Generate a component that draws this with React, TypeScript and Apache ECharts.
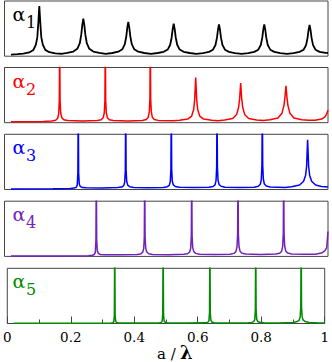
import React, { useEffect, useRef } from "react";
import * as echarts from "echarts";

// ---- data (x = a/lambda, y = fraction of panel height) ----
const xTickLabels = ["0", "0.2", "0.4", "0.6", "0.8", "1"];
const panelNames = ["1", "2", "3", "4", "5"];
const panelColors = ["#000000", "#ff0000", "#0000ff", "#7221bc", "#008b00"];

const curve1: number[][] = [
  [0.02, 0.03], [0.04, 0.036], [0.0581, 0.048], [0.0767, 0.068], [0.0891, 0.112], [0.0968, 0.205], [0.1014, 0.34], [0.1045, 0.6],
  [0.1076, 0.91], [0.1107, 0.6], [0.1138, 0.34], [0.1184, 0.21], [0.1261, 0.115], [0.1385, 0.072], [0.1571, 0.052], [0.1756, 0.044],
  [0.1941, 0.06], [0.2127, 0.085], [0.2251, 0.133], [0.2328, 0.235], [0.2374, 0.394], [0.2405, 0.566], [0.2436, 0.68],
  [0.2467, 0.566], [0.2498, 0.394], [0.2544, 0.235], [0.2621, 0.133], [0.2745, 0.085], [0.2931, 0.06], [0.313, 0.044],
  [0.3332, 0.058], [0.3518, 0.081], [0.3642, 0.125], [0.3719, 0.217], [0.3765, 0.36], [0.3796, 0.516], [0.3827, 0.62],
  [0.3858, 0.516], [0.3889, 0.36], [0.3935, 0.217], [0.4012, 0.125], [0.4136, 0.081], [0.4322, 0.058], [0.4528, 0.044],
  [0.4735, 0.058], [0.4921, 0.08], [0.5045, 0.12], [0.5122, 0.208], [0.5168, 0.344], [0.5199, 0.49], [0.523, 0.59],
  [0.5261, 0.49], [0.5292, 0.344], [0.5338, 0.208], [0.5415, 0.12], [0.5539, 0.08], [0.5725, 0.058], [0.593, 0.044],
  [0.6135, 0.057], [0.6321, 0.078], [0.6445, 0.118], [0.6522, 0.203], [0.6568, 0.336], [0.6599, 0.479], [0.663, 0.574],
  [0.6661, 0.479], [0.6692, 0.336], [0.6738, 0.203], [0.6815, 0.118], [0.6939, 0.078], [0.7125, 0.057], [0.733, 0.044],
  [0.7535, 0.057], [0.7721, 0.078], [0.7845, 0.118], [0.7922, 0.203], [0.7968, 0.336], [0.7999, 0.479], [0.803, 0.574],
  [0.8061, 0.479], [0.8092, 0.336], [0.8138, 0.203], [0.8215, 0.118], [0.8339, 0.078], [0.8525, 0.057], [0.873, 0.044],
  [0.8935, 0.057], [0.9121, 0.078], [0.9245, 0.117], [0.9322, 0.2], [0.9368, 0.332], [0.9399, 0.473], [0.943, 0.567],
  [0.9461, 0.473], [0.9492, 0.332], [0.9538, 0.2], [0.9615, 0.117], [0.9739, 0.078], [0.9925, 0.06], [1.0, 0.06],
];

const curve2: number[][] = [
  [0.02, 0.018], [0.12, 0.02], [0.1459, 0.03], [0.1582, 0.045], [0.1644, 0.08], [0.1675, 0.16], [0.1694, 0.4], [0.1706, 1.6],
  [0.1718, 0.4], [0.1737, 0.18], [0.1768, 0.095], [0.183, 0.055], [0.1953, 0.04], [0.2411, 0.03],
  [0.2869, 0.04], [0.2992, 0.055], [0.3054, 0.095], [0.3085, 0.18], [0.3104, 0.4], [0.3116, 1.6],
  [0.3128, 0.4], [0.3147, 0.18], [0.3178, 0.095], [0.324, 0.055], [0.3363, 0.04], [0.381, 0.032],
  [0.426, 0.04], [0.4383, 0.058], [0.4445, 0.1], [0.4476, 0.2], [0.4495, 0.42], [0.4507, 1.5],
  [0.4519, 0.42], [0.4538, 0.2], [0.4569, 0.1], [0.4631, 0.058], [0.4754, 0.042], [0.5208, 0.034],
  [0.5415, 0.045], [0.5663, 0.065], [0.5786, 0.12], [0.5848, 0.24], [0.5879, 0.42], [0.591, 0.816],
  [0.5941, 0.42], [0.5972, 0.24], [0.6034, 0.12], [0.6157, 0.065], [0.6405, 0.045], [0.6605, 0.037],
  [0.6805, 0.05], [0.7053, 0.075], [0.7176, 0.15], [0.7238, 0.28], [0.7269, 0.44], [0.73, 0.72],
  [0.7331, 0.44], [0.7362, 0.28], [0.7424, 0.15], [0.7547, 0.075], [0.7795, 0.05], [0.8, 0.04],
  [0.8205, 0.055], [0.8453, 0.085], [0.8576, 0.17], [0.8638, 0.31], [0.8669, 0.46], [0.87, 0.666],
  [0.8731, 0.46], [0.8762, 0.31], [0.8824, 0.17], [0.8947, 0.085], [0.9195, 0.055], [0.94, 0.045],
  [0.96, 0.045], [0.98, 0.065], [0.99, 0.1], [0.996, 0.16], [1.0, 0.23],
];

const curve3: number[][] = [
  [0.02, 0.01], [0.15, 0.012], [0.2033, 0.018], [0.2156, 0.025], [0.2218, 0.04], [0.2249, 0.08], [0.2268, 0.3], [0.228, 1.6],
  [0.2292, 0.3], [0.2311, 0.1], [0.2342, 0.055], [0.2404, 0.035], [0.2527, 0.03], [0.3014, 0.028],
  [0.35, 0.035], [0.3623, 0.045], [0.3685, 0.07], [0.3716, 0.13], [0.3735, 0.35], [0.3747, 1.6],
  [0.3759, 0.35], [0.3778, 0.15], [0.3809, 0.08], [0.3871, 0.05], [0.3994, 0.038], [0.4452, 0.033],
  [0.4909, 0.038], [0.5032, 0.05], [0.5094, 0.075], [0.5125, 0.14], [0.5144, 0.37], [0.5156, 1.6],
  [0.5168, 0.37], [0.5187, 0.15], [0.5218, 0.085], [0.528, 0.055], [0.5403, 0.04], [0.5863, 0.034],
  [0.6323, 0.04], [0.6446, 0.055], [0.6508, 0.085], [0.6539, 0.16], [0.6558, 0.4], [0.657, 1.6],
  [0.6582, 0.4], [0.6601, 0.17], [0.6632, 0.09], [0.6694, 0.058], [0.6817, 0.042], [0.727, 0.035],
  [0.7723, 0.042], [0.7846, 0.06], [0.7908, 0.095], [0.7939, 0.18], [0.7958, 0.45], [0.797, 1.6],
  [0.7982, 0.45], [0.8001, 0.19], [0.8032, 0.1], [0.8094, 0.062], [0.8217, 0.045], [0.867, 0.036],
  [0.8875, 0.05], [0.9123, 0.08], [0.9246, 0.15], [0.9308, 0.26], [0.9339, 0.42], [0.937, 0.9],
  [0.9401, 0.42], [0.9432, 0.26], [0.9494, 0.15], [0.9617, 0.08], [0.98, 0.055], [1.0, 0.046],
];

const curve4: number[][] = [
  [0.02, 0.005], [0.2, 0.006], [0.2591, 0.012], [0.2714, 0.02], [0.2776, 0.035], [0.2807, 0.07], [0.2826, 0.3], [0.2838, 1.6],
  [0.285, 0.3], [0.2869, 0.1], [0.29, 0.055], [0.2962, 0.035], [0.3085, 0.03], [0.3586, 0.028],
  [0.4087, 0.035], [0.421, 0.045], [0.4272, 0.075], [0.4303, 0.14], [0.4322, 0.35], [0.4334, 1.6],
  [0.4346, 0.35], [0.4365, 0.15], [0.4396, 0.08], [0.4458, 0.048], [0.4581, 0.036], [0.506, 0.032],
  [0.554, 0.037], [0.5663, 0.05], [0.5725, 0.08], [0.5756, 0.15], [0.5775, 0.37], [0.5787, 1.6],
  [0.5799, 0.37], [0.5818, 0.16], [0.5849, 0.09], [0.5911, 0.055], [0.6034, 0.04], [0.65, 0.034],
  [0.6971, 0.04], [0.7094, 0.055], [0.7156, 0.09], [0.7187, 0.17], [0.7206, 0.4], [0.7218, 1.6],
  [0.723, 0.4], [0.7249, 0.18], [0.728, 0.095], [0.7342, 0.058], [0.7465, 0.042], [0.792, 0.036],
  [0.8383, 0.042], [0.8506, 0.058], [0.8568, 0.095], [0.8599, 0.18], [0.8618, 0.42], [0.863, 1.6],
  [0.8642, 0.42], [0.8661, 0.19], [0.8692, 0.1], [0.8754, 0.06], [0.8877, 0.045], [0.93, 0.038],
  [0.96, 0.04], [0.98, 0.06], [0.99, 0.1], [0.996, 0.16], [1.0, 0.45],
];

const curve5: number[][] = [
  [0.02, 0.005], [0.3, 0.006], [0.326, 0.008], [0.3323, 0.015], [0.3354, 0.03], [0.3373, 0.15], [0.3385, 1.6],
  [0.3397, 0.15], [0.3416, 0.035], [0.3447, 0.017], [0.351, 0.01], [0.41, 0.008],
  [0.4785, 0.01], [0.4848, 0.02], [0.4879, 0.04], [0.4898, 0.18], [0.491, 1.6],
  [0.4922, 0.18], [0.4941, 0.045], [0.4972, 0.022], [0.5035, 0.012], [0.565, 0.009],
  [0.6259, 0.012], [0.6321, 0.025], [0.6352, 0.05], [0.6371, 0.2], [0.6383, 1.6],
  [0.6395, 0.2], [0.6414, 0.055], [0.6445, 0.027], [0.6507, 0.013], [0.71, 0.01],
  [0.758, 0.012], [0.7703, 0.02], [0.7765, 0.035], [0.7796, 0.07], [0.7815, 0.25], [0.7827, 1.6],
  [0.7839, 0.25], [0.7858, 0.075], [0.7889, 0.037], [0.7951, 0.022], [0.8074, 0.013], [0.855, 0.01],
  [0.9011, 0.018], [0.9134, 0.035], [0.9196, 0.06], [0.9227, 0.12], [0.9246, 0.3], [0.9258, 1.6],
  [0.927, 0.3], [0.9289, 0.12], [0.932, 0.065], [0.9382, 0.035], [0.9505, 0.018], [0.975, 0.012], [1.0, 0.01],
];

const curves = [curve1, curve2, curve3, curve4, curve5];

// ---- layout ----
const PANEL_TOPS = [1, 67.5, 134.3, 201.2, 268.3];
const PANEL_H = 55.2;
const LEFT = 4.5;
const WIDTH = 323.5;
const SERIF = "DejaVu Serif";

export default function App() {
  const ref = useRef<HTMLDivElement>(null);
  useEffect(() => {
    const chart = echarts.init(ref.current!, null, { renderer: "svg" });
    const last = curves.length - 1;
    const graphics: any[] = [];
    PANEL_TOPS.forEach((top, i) => {
      graphics.push({
        type: "text",
        x: 12.5,
        y: top + 13,
        style: {
          text: "α",
          fontSize: 19,
          fontFamily: SERIF,
          fill: panelColors[i],
          align: "left",
          verticalAlign: "middle",
        },
        silent: true,
      });
      graphics.push({
        type: "text",
        x: 26,
        y: top + 21.5,
        style: {
          text: panelNames[i],
          fontSize: 16,
          fontFamily: SERIF,
          fill: panelColors[i],
          align: "left",
          verticalAlign: "middle",
        },
        silent: true,
      });
    });
    graphics.push({
      type: "text",
      x: 157,
      y: 361.5,
      style: {
        text: "a /",
        fontSize: 15,
        fontFamily: SERIF,
        fill: "#000",
        align: "left",
        verticalAlign: "bottom",
      },
      silent: true,
    });
    graphics.push({
      type: "text",
      x: 180,
      y: 361.5,
      style: {
        text: "λ",
        fontSize: 18,
        fontWeight: "bold",
        fontFamily: SERIF,
        fill: "#000",
        align: "left",
        verticalAlign: "bottom",
      },
      silent: true,
    });

    const option: any = {
      animation: false,
      grid: PANEL_TOPS.map((top) => ({
        left: LEFT,
        top,
        width: WIDTH,
        height: PANEL_H,
        show: true,
        borderColor: "#444",
        borderWidth: 1,
        backgroundColor: "transparent",
      })),
      xAxis: curves.map((_, i) => ({
        type: "value",
        gridIndex: i,
        min: 0,
        max: 1,
        interval: 0.2,
        axisLine: { show: false },
        splitLine: { show: false },
        axisTick: { show: i === last, inside: true, length: 7, lineStyle: { color: "#444", width: 1 } },
        minorTick: { show: i === last, splitNumber: 2, length: 4, lineStyle: { color: "#444", width: 1 } },
        axisLabel: {
          show: i === last,
          margin: 6,
          fontSize: 13.5,
          fontFamily: SERIF,
          color: "#000",
          showMinLabel: true,
          showMaxLabel: true,
          formatter: (v: number) => xTickLabels[Math.round(v / 0.2)],
        },
      })),
      yAxis: curves.map((_, i) => ({
        type: "value",
        gridIndex: i,
        min: 0,
        max: 1,
        show: false,
      })),
      series: curves.map((data, i) => ({
        type: "line",
        xAxisIndex: i,
        yAxisIndex: i,
        data,
        symbol: "none",
        showSymbol: false,
        clip: true,
        lineStyle: { color: panelColors[i], width: i === 0 ? 1.8 : 1.5 },
        silent: true,
      })),
      graphic: graphics,
    };
    chart.setOption(option);
    return () => chart.dispose();
  }, []);
  return (
    <div
      ref={ref}
      style={{ position: "absolute", left: 0, top: 0, width: 332, height: 362 }}
    />
  );
}
